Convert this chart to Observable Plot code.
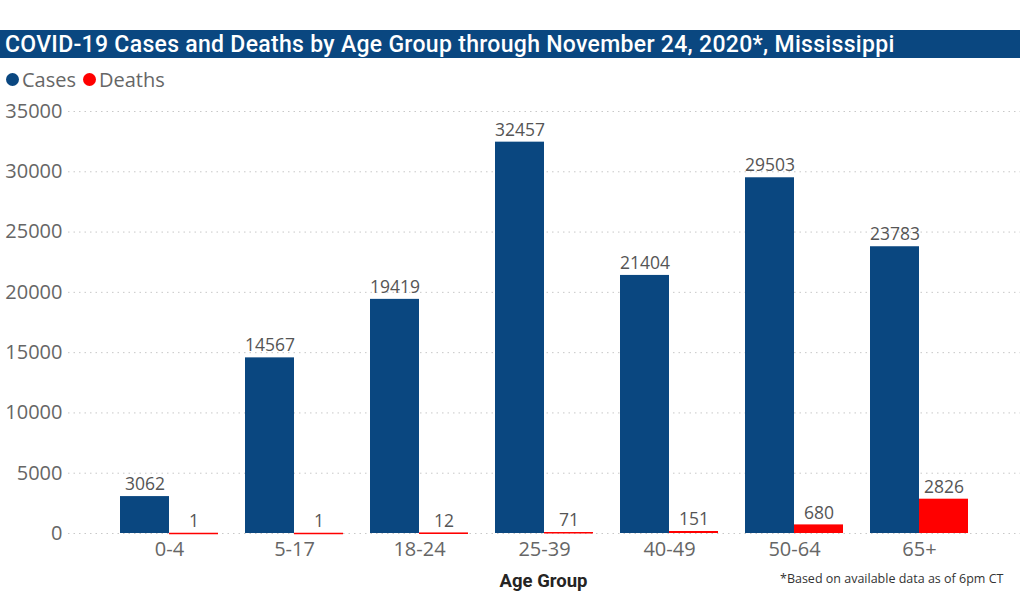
<!DOCTYPE html>
<html>
<head>
<meta charset="utf-8">
<script src="https://cdn.jsdelivr.net/npm/d3@7"></script>
<script src="https://cdn.jsdelivr.net/npm/@observablehq/plot@0.6"></script>
<style>
  body { margin: 0; background: #fff; width: 1024px; height: 608px; overflow: hidden; font-family: "Open Sans", "Noto Sans", sans-serif; }
  #top { height: 30px; }
  #title { height: 28px; background: #0A4780; color: #fff; font-family: "Roboto", sans-serif; font-weight: 500; font-size: 23px; line-height: 29px; padding-left: 5px; margin-right: 4px; white-space: nowrap; letter-spacing: 0.3px; }
  #legend { height: 37px; padding-top: 6px; box-sizing: border-box; display: flex; align-items: center; font-size: 20px; color: #666; padding-left: 6px; }
  .item { display: flex; align-items: center; margin-right: 7px; }
  .dot { width: 13px; height: 13px; border-radius: 50%; display: inline-block; margin-right: 3px; }
  #chart { position: relative; }
  #note { position: absolute; left: 780px; top: 475px; font-size: 12.5px; color: #333; }
</style>
</head>
<body>
<div id="top"></div>
<div id="title">COVID-19 Cases and Deaths by Age Group through November 24, 2020*, Mississippi</div>
<div id="legend"></div>
<div id="chart"><div id="note">*Based on available data as of 6pm CT</div></div>
<script>
const ageGroups = ["0-4", "5-17", "18-24", "25-39", "40-49", "50-64", "65+"];
const cases = [3062, 14567, 19419, 32457, 21404, 29503, 23783];
const deaths = [1, 1, 12, 71, 151, 680, 2826];
const seriesNames = ["Cases", "Deaths"];
const seriesColors = ["#0A4780", "#FF0000"];
const yTicks = [0, 5000, 10000, 15000, 20000, 25000, 30000, 35000];

const legend = document.getElementById("legend");
seriesNames.forEach((s, i) => {
  const it = document.createElement("span");
  it.className = "item";
  it.innerHTML = `<span class="dot" style="background:${seriesColors[i]}"></span>${s}`;
  legend.appendChild(it);
});

const caseData = ageGroups.map((a, i) => ({age: a, value: cases[i]}));
const deathData = ageGroups.map((a, i) => ({age: a, value: deaths[i]}));
const half = 49;

const chart = Plot.plot({
  width: 1024,
  height: 513,
  marginLeft: 68,
  marginRight: 4,
  marginTop: 16,
  marginBottom: 75,
  style: {fontFamily: "'Open Sans', 'Noto Sans', sans-serif", color: "#666", background: "transparent"},
  x: {domain: ageGroups, paddingInner: 0.216, paddingOuter: 0.416, label: null, tickSize: 0},
  y: {domain: [0, 35000], ticks: yTicks, label: null, tickSize: 0},
  marks: [
    Plot.gridY(yTicks, {stroke: "#c8c8c8", strokeOpacity: 1, strokeDasharray: "1.5,4"}),
    Plot.barY(caseData, {x: "age", y: "value", fill: seriesColors[0], insetRight: half}),
    Plot.barY(deathData, {x: "age", y: "value", fill: seriesColors[1], insetLeft: half}),
    Plot.tickY(deathData, {x: "age", y: "value", stroke: seriesColors[1], strokeWidth: 1.5, insetLeft: half}),
    Plot.text(caseData, {x: "age", y: "value", text: d => String(d.value), dx: -half / 2, dy: -12, fontSize: 17.5, fill: "#555"}),
    Plot.text(deathData, {x: "age", y: "value", text: d => String(d.value), dx: half / 2, dy: -12, fontSize: 17.5, fill: "#555"}),
    Plot.axisY(yTicks, {fontSize: 20, fill: "#666", tickSize: 0, tickPadding: 6, tickFormat: d => String(d)}),
    Plot.axisX({fontSize: 20, fill: "#666", tickSize: 0, tickPadding: 8}),
    Plot.text(["Age Group"], {frameAnchor: "bottom", dy: 53, dx: -1, x: () => "25-39", fontSize: 18.5, fontWeight: "bold", fill: "#252423", fontFamily: "Roboto, sans-serif"})
  ]
});
document.getElementById("chart").prepend(chart);
</script>
</body>
</html>
